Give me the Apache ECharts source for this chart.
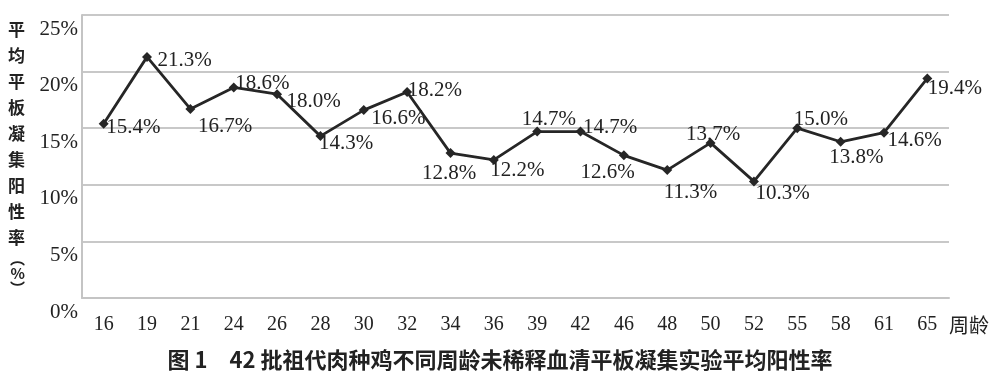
<!DOCTYPE html>
<html>
<head>
<meta charset="utf-8">
<script src="https://cdn.jsdelivr.net/npm/echarts@6/dist/echarts.min.js"></script>
<style>
  html, body { margin: 0; padding: 0; background: #fff; }
  #chart { width: 1000px; height: 378px; }
</style>
</head>
<body>
<div id="chart"></div>
<script>
// 周龄
var weeks = ["16", "19", "21", "24", "26", "28", "30", "32", "34", "36",
             "39", "42", "46", "48", "50", "52", "55", "58", "61", "65"];
// 平均阳性率 (%)
var rates = [15.4, 21.3, 16.7, 18.6, 18.0, 14.3, 16.6, 18.2, 12.8, 12.2,
             14.7, 14.7, 12.6, 11.3, 13.7, 10.3, 15.0, 13.8, 14.6, 19.4];
var yTicks = [0, 5, 10, 15, 20, 25];

// 标签相对数据点的偏移（像素）
var labelDx = [2, 10, 7, 1, 9, -2, 7, 0, -29, -4, -16, 2, -44, -4, -25, 1, -4, -12, 3, 0];
var labelDy = [4, 4, 18, -4, 7, 7, 8, -1, 20, 11, -12, -4, 17, 22, -8, 12, -9, 16, 8, 10];

var serif = "'Liberation Serif', 'DejaVu Serif', serif";
var cjk = "'Noto Sans CJK SC', sans-serif";

var chart = echarts.init(document.getElementById("chart"));

var nameChars = ["平", "均", "平", "板", "凝", "集", "阳", "性", "率"];
var yName = nameChars.map(function (c) { return "{a|" + c + "}"; }).join("\n") +
  "\n{b|︵}\n{b|%}\n{b|︶}";

var option = {
  animation: false,
  grid: { left: 82, right: 51, top: 15, bottom: 80 },
  title: {
    text: "图 1　42 批祖代肉种鸡不同周龄未稀释血清平板凝集实验平均阳性率",
    left: "center",
    top: 344,
    textStyle: { fontFamily: cjk, fontSize: 22, fontWeight: "bold", color: "#222" }
  },
  xAxis: {
    type: "category",
    data: weeks,
    boundaryGap: true,
    name: "周龄",
    nameLocation: "end",
    nameGap: 0,
    nameTextStyle: { fontFamily: cjk, fontSize: 20, color: "#222", verticalAlign: "top", lineHeight: 54 },
    axisLine: { lineStyle: { color: "#c4c4c4", width: 2 } },
    axisTick: { show: false },
    axisLabel: { fontFamily: serif, fontSize: 20, color: "#222", margin: 17, interval: 0 }
  },
  yAxis: {
    type: "value",
    min: 0,
    max: 25,
    interval: 5,
    name: yName,
    nameLocation: "middle",
    nameRotate: 0,
    nameGap: 57,
    nameTextStyle: {
      rich: {
        a: { fontFamily: cjk, fontSize: 17, fontWeight: "bold", lineHeight: 26, color: "#222" },
        b: { fontFamily: cjk, fontSize: 15, fontWeight: "bold", lineHeight: 15, color: "#222" }
      }
    },
    axisLine: { show: true, lineStyle: { color: "#c4c4c4", width: 2 } },
    axisTick: { show: false },
    splitLine: { lineStyle: { color: "#c8c8c8", width: 2 } },
    axisLabel: {
      fontFamily: serif,
      fontSize: 21,
      color: "#222",
      margin: 4,
      verticalAlign: "top",
      lineHeight: 28,
      formatter: function (v) { return yTicks.indexOf(v) >= 0 ? v + "%" : ""; }
    }
  },
  series: [{
    type: "line",
    data: rates.map(function (v, i) {
      return {
        value: v,
        label: { offset: [labelDx[i] - 4.5, labelDy[i]] }
      };
    }),
    symbol: "diamond",
    symbolSize: 10,
    lineStyle: { color: "#262626", width: 2.8 },
    itemStyle: { color: "#262626" },
    label: {
      show: true,
      position: "right",
      distance: 0,
      fontFamily: serif,
      fontSize: 21,
      color: "#222",
      formatter: function (p) { return p.value.toFixed(1) + "%"; }
    }
  }]
};

chart.setOption(option);
</script>
</body>
</html>
